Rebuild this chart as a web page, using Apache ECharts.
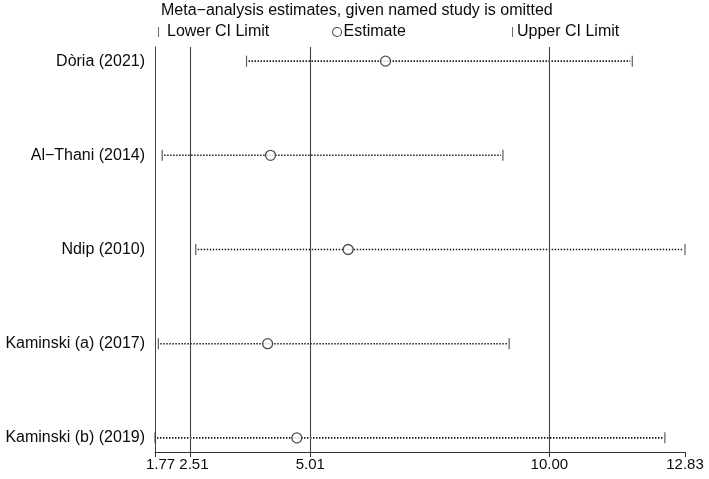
<!DOCTYPE html>
<html>
<head>
<meta charset="utf-8">
<script src="https://cdn.jsdelivr.net/npm/echarts@6/dist/echarts.min.js"></script>
<style>
html,body{margin:0;padding:0;background:#fff;}
#chart{width:709px;height:479px;}
</style>
</head>
<body>
<div id="chart"></div>
<script>
// ---- data ----
const studies = ["Dòria (2021)", "Al−Thani (2014)", "Ndip (2010)", "Kaminski (a) (2017)", "Kaminski (b) (2019)"];
const estimate = [6.58, 4.18, 5.80, 4.12, 4.73];
const lowerCI = [3.68, 1.92, 2.62, 1.84, 1.77];
const upperCI = [11.73, 9.03, 12.83, 9.16, 12.41];
const overall = [2.51, 5.01, 10.00];           // combined lower, estimate, upper
const xTicks = [1.77, 2.51, 5.01, 10.00, 12.83];
const rowPos = [5, 4, 3, 2, 1];

const FONT = "Liberation Sans, Arial, Helvetica, sans-serif";
const INK = "#0a0a0a";

const chart = echarts.init(document.getElementById('chart'), null, {renderer: 'canvas'});

const ciData = studies.map((s, i) => [lowerCI[i], upperCI[i], rowPos[i]]);
const estData = studies.map((s, i) => [estimate[i], rowPos[i]]);
const loData = studies.map((s, i) => [lowerCI[i], rowPos[i]]);
const hiData = studies.map((s, i) => [upperCI[i], rowPos[i]]);

const tickPath = 'path://M0,0L1,0L1,10L0,10Z';

const legendBase = {
  orient: 'horizontal', top: 19, itemHeight: 11, itemGap: 4,
  textStyle: {fontFamily: FONT, fontSize: 16, color: INK},
  selectedMode: false
};

chart.setOption({
  animation: false,
  title: {
    text: 'Meta−analysis estimates, given named study is omitted',
    left: 156, top: -2,
    textStyle: {fontFamily: FONT, fontSize: 16, fontWeight: 'normal', color: INK}
  },
  legend: [
    Object.assign({}, legendBase, {left: 153, itemWidth: 1,
      data: [{name: 'Lower CI Limit', icon: tickPath, itemStyle: {color: '#444'}, textStyle: {padding: [0,0,0,3]}}]}),
    Object.assign({}, legendBase, {left: 327, itemWidth: 9, itemHeight: 9,
      data: [{name: 'Estimate', icon: 'circle', itemStyle: {color: '#fff', borderColor: '#222', borderWidth: 1.1}, textStyle: {padding: [0,0,0,-3]}}]}),
    Object.assign({}, legendBase, {left: 507, itemWidth: 1,
      data: [{name: 'Upper CI Limit', icon: tickPath, itemStyle: {color: '#444'}, textStyle: {padding: [0,0,0,-1]}}]})
  ],
  grid: {left: 155, right: 24, top: 47, bottom: 27, containLabel: false},
  xAxis: {
    type: 'value', min: 1.77, max: 12.83,
    axisLine: {show: true, lineStyle: {color: '#333', width: 1}},
    axisTick: {show: true, customValues: xTicks, length: 5, inside: false, lineStyle: {color: '#333'}},
    axisLabel: {
      customValues: xTicks,
      formatter: function (v) {
        const s = v.toFixed(2);
        if (Math.abs(v - 1.77) < 1e-6) return '{a|' + s + '}';
        if (Math.abs(v - 2.51) < 1e-6) return '{b|' + s + '}';
        return s;
      },
      rich: {
        a: {fontFamily: FONT, fontSize: 15, color: INK, padding: [0, 0, 0, 11]},
        b: {fontFamily: FONT, fontSize: 15, color: INK, padding: [0, 0, 0, 7]}
      },
      fontFamily: FONT, fontSize: 15, color: INK, margin: 5
    },
    splitLine: {show: false}
  },
  yAxis: {
    type: 'value', min: 0.85, max: 5.15,
    axisLine: {show: true, lineStyle: {color: '#444', width: 1}},
    axisTick: {show: false},
    axisLabel: {
      customValues: rowPos,
      formatter: v => studies[rowPos.indexOf(Math.round(v))] || '',
      fontFamily: FONT, fontSize: 16, color: INK, margin: 10
    },
    splitLine: {show: false}
  },
  series: [
    {
      type: 'custom', name: 'ci', silent: true,
      renderItem: function (params, api) {
        const p1 = api.coord([api.value(0), api.value(2)]);
        const p2 = api.coord([api.value(1), api.value(2)]);
        return {
          type: 'line',
          shape: {x1: p1[0] + 2, y1: p1[1], x2: p2[0] - 2, y2: p2[1]},
          style: {stroke: '#111', lineWidth: 1.6, lineDash: [1.4, 1.6]}
        };
      },
      encode: {x: [0, 1], y: 2},
      data: ciData, z: 2,
      markLine: {
        silent: true, symbol: 'none', label: {show: false},
        lineStyle: {type: 'solid', color: '#444', width: 1.1},
        data: overall.map(v => ({xAxis: v}))
      }
    },
    {
      type: 'scatter', name: 'Lower CI Limit', data: loData,
      symbol: 'rect', symbolSize: [1.2, 11],
      itemStyle: {color: '#333'}, z: 3
    },
    {
      type: 'scatter', name: 'Upper CI Limit', data: hiData,
      symbol: 'rect', symbolSize: [1.2, 11],
      itemStyle: {color: '#333'}, z: 3
    },
    {
      type: 'scatter', name: 'Estimate', data: estData,
      symbol: 'circle', symbolSize: 10,
      itemStyle: {color: '#fff', borderColor: '#222', borderWidth: 1.3}, z: 4
    }
  ]
});
</script>
</body>
</html>
